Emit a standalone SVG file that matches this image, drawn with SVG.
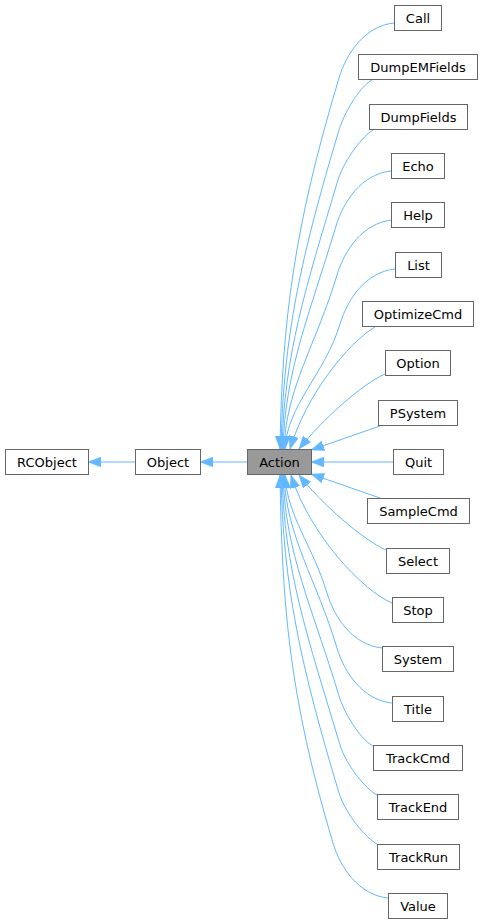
<svg xmlns="http://www.w3.org/2000/svg" width="483" height="924" viewBox="0 0 483 924">
<style>
.n rect{fill:#ffffff;stroke:#666666;stroke-width:1}
.n.hl rect{fill:#999999}
.n text{font-family:"DejaVu Sans","Liberation Sans",sans-serif;font-size:13px;fill:#000000;text-anchor:middle}
.e path{fill:none;stroke:#63b8ff;stroke-width:1;marker-end:url(#ah)}
</style>
<defs>
<marker id="ah" markerUnits="userSpaceOnUse" markerWidth="13" markerHeight="10" viewBox="0 0 13 10" refX="13" refY="5" orient="auto">
<path d="M0,0 L13,5 L0,10 z" fill="#63b8ff" stroke="#63b8ff" stroke-width="0.5"/>
</marker>
</defs>
<g id="edges" class="e">
<path d="M135,462 L88,462"/>
<path d="M247,462 L200,462"/>
<path d="M394,23 C365,26 346.5,53 339,78 C294.5,226 282,319 280,449"/>
<path d="M372,80 C362,85 346,108 339,130 C300.7,257.6 283,337.4 281,449"/>
<path d="M373,130 C364,135 345,158 338,180 C305.7,287.6 284,354.9 282,449"/>
<path d="M391,171 C362,174 343.5,201 336,226 C309.2,315.2 285,371 283,449"/>
<path d="M392,220 C363,223 344.5,250 337,275 C316.1,344.6 286,388 284,449"/>
<path d="M395,269 C366,272 347.5,299 340,324 C325,374 287,405 285,449"/>
<path d="M375,327 C348,343 306,395 290,449"/>
<path d="M385,374 C362,384 322,420 299,449"/>
<path d="M380,426 L311,450"/>
<path d="M393,462 L311,462"/>
<path d="M380,498 L311,474"/>
<path d="M386,550 C363,540 322,504 299,475"/>
<path d="M392,603 C362,590 310,535 291,475"/>
<path d="M382,648 C353,645 334.5,618 327,593 C312.8,545.8 287,516 285,475"/>
<path d="M392,703 C363,700 344.5,673 337,648 C316.2,578.8 286,535.6 284,475"/>
<path d="M373,746 C363,741 346,718 339,696 C312.5,607.6 285,552.4 283,475"/>
<path d="M377,795 C367,790 347,767 340,745 C307.6,637 284,569.5 282,475"/>
<path d="M377,844 C367,839 346,815 339,793 C300.8,665.8 283,586.3 281,475"/>
<path d="M388,898 C359,895 340.5,868 333,843 C288.8,695.8 282,603.8 280,475"/>
</g>
<g id="RCObject" class="n"><rect x="5.5" y="449.5" width="83" height="25"/><text x="47" y="466.5">RCObject</text></g>
<g id="Object" class="n"><rect x="135.5" y="449.5" width="65" height="25"/><text x="168" y="466.5">Object</text></g>
<g id="Action" class="n hl"><rect x="247.5" y="449.5" width="64" height="25"/><text x="279.5" y="466.5">Action</text></g>
<g id="Call" class="n"><rect x="394.5" y="5.5" width="47" height="25"/><text x="418" y="22.5">Call</text></g>
<g id="DumpEMFields" class="n"><rect x="358.5" y="54.5" width="119" height="25"/><text x="418" y="71.5">DumpEMFields</text></g>
<g id="DumpFields" class="n"><rect x="369.5" y="104.5" width="98" height="25"/><text x="418.5" y="121.5">DumpFields</text></g>
<g id="Echo" class="n"><rect x="391.5" y="153.5" width="53" height="25"/><text x="418" y="170.5">Echo</text></g>
<g id="Help" class="n"><rect x="391.5" y="202.5" width="53" height="25"/><text x="418" y="219.5">Help</text></g>
<g id="List" class="n"><rect x="395.5" y="252.5" width="46" height="25"/><text x="418.5" y="269.5">List</text></g>
<g id="OptimizeCmd" class="n"><rect x="362.5" y="301.5" width="111" height="25"/><text x="418" y="318.5">OptimizeCmd</text></g>
<g id="Option" class="n"><rect x="385.5" y="350.5" width="65" height="25"/><text x="418" y="367.5">Option</text></g>
<g id="PSystem" class="n"><rect x="378.5" y="400.5" width="79" height="25"/><text x="418" y="417.5">PSystem</text></g>
<g id="Quit" class="n"><rect x="393.5" y="449.5" width="50" height="25"/><text x="418.5" y="466.5">Quit</text></g>
<g id="SampleCmd" class="n"><rect x="367.5" y="498.5" width="102" height="25"/><text x="418.5" y="515.5">SampleCmd</text></g>
<g id="Select" class="n"><rect x="386.5" y="548.5" width="63" height="25"/><text x="418" y="565.5">Select</text></g>
<g id="Stop" class="n"><rect x="392.5" y="597.5" width="51" height="25"/><text x="418" y="614.5">Stop</text></g>
<g id="System" class="n"><rect x="382.5" y="646.5" width="71" height="25"/><text x="418" y="663.5">System</text></g>
<g id="Title" class="n"><rect x="392.5" y="696.5" width="51" height="25"/><text x="418" y="713.5">Title</text></g>
<g id="TrackCmd" class="n"><rect x="373.5" y="745.5" width="89" height="25"/><text x="418" y="762.5">TrackCmd</text></g>
<g id="TrackEnd" class="n"><rect x="377.5" y="794.5" width="81" height="25"/><text x="418" y="811.5">TrackEnd</text></g>
<g id="TrackRun" class="n"><rect x="377.5" y="844.5" width="82" height="25"/><text x="418.5" y="861.5">TrackRun</text></g>
<g id="Value" class="n"><rect x="388.5" y="893.5" width="59" height="25"/><text x="418" y="910.5">Value</text></g>
</svg>
